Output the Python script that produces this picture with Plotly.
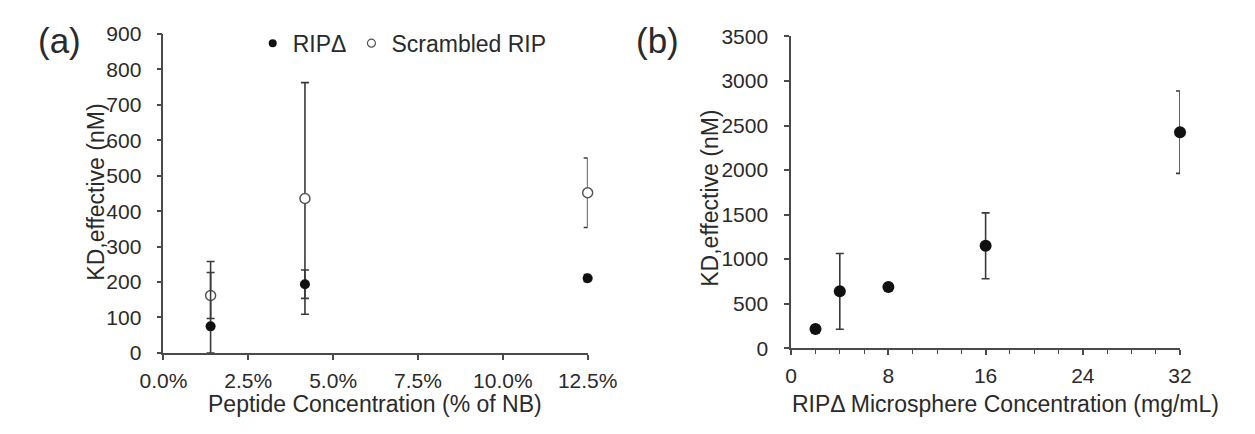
import plotly.graph_objects as go

# Panel (a): K_D,effective vs peptide loading
pct = [1.39, 4.17, 12.5]
rip_kd = [75, 194, 211]
rip_err_plus = [183, 40, 10]
rip_err_minus = [75, 40, 10]
scr_kd = [162, 436, 452]
scr_err = [65, 327, 98]

# Panel (b): K_D,effective vs RIPΔ microsphere concentration
conc = [2, 4, 8, 16, 32]
kd_b = [215, 638, 687, 1149, 2425]
err_b = [40, 425, 30, 370, 463]

W, H = 1255, 434
FONT = "Liberation Sans, Arial, sans-serif"
TXT = "#2a2a2a"
AX = "#4a4a4a"
ERR = "#3a3a3a"


def px_x(p):
    return p / W


def px_y(p):
    return (H - p) / H


fig = go.Figure()

err_style = dict(type="data", color=ERR, thickness=1.6, width=4)

fig.add_trace(go.Scatter(
    x=pct, y=scr_kd, mode="markers", xaxis="x", yaxis="y", showlegend=False,
    marker=dict(size=10, color="white", line=dict(color="#555555", width=1.5)),
    error_y=dict(array=scr_err, **err_style), cliponaxis=False,
))
fig.add_trace(go.Scatter(
    x=pct, y=rip_kd, mode="markers", xaxis="x", yaxis="y", showlegend=False,
    marker=dict(size=10, color="#111111"),
    error_y=dict(array=rip_err_plus, arrayminus=rip_err_minus, symmetric=False, **err_style),
    cliponaxis=False,
))
fig.add_trace(go.Scatter(
    x=conc, y=kd_b, mode="markers", xaxis="x2", yaxis="y2", showlegend=False,
    marker=dict(size=12, color="#111111"),
    error_y=dict(array=err_b, **err_style), cliponaxis=False,
))

# legend entries
fig.add_trace(go.Scatter(x=[None], y=[None], mode="markers", name="RIPΔ",
                         marker=dict(size=8, color="#111111")))
fig.add_trace(go.Scatter(x=[None], y=[None], mode="markers", name="Scrambled RIP",
                         marker=dict(size=8, color="white", line=dict(color="#555555", width=1.2))))

axis_common = dict(
    showline=True, linecolor=AX, linewidth=1.8, showgrid=False, zeroline=False,
    ticks="outside", ticklen=5, tickwidth=1.5, tickcolor=AX,
    tickfont=dict(family=FONT, size=21, color=TXT),
)

TITLE_FONT = dict(family=FONT, size=23, color=TXT)
YTITLE_FONT = dict(family=FONT, size=23, color=TXT)
PANEL_FONT = dict(family=FONT, size=35, color=TXT)


def label(text, x, y, font, angle=0):
    return dict(text=text, x=px_x(x), y=px_y(y), xref="paper", yref="paper",
                xanchor="center", yanchor="middle", textangle=angle,
                showarrow=False, font=font)


fig.update_layout(
    width=W, height=H,
    margin=dict(l=0, r=0, t=0, b=0),
    paper_bgcolor="white", plot_bgcolor="white",
    font=dict(family=FONT, color=TXT),
    xaxis=dict(domain=[px_x(145.7), px_x(589)], range=[0, 12.5], dtick=2.5,
               tickformat=".1f", ticksuffix="%", anchor="y", ticklabelstandoff=3,
               **axis_common),
    yaxis=dict(domain=[px_y(360), px_y(23.3)], range=[0, 900], dtick=100, anchor="x",
               ticklabelstandoff=11, **axis_common),
    xaxis2=dict(domain=[px_x(801.7), px_x(1208)], range=[0, 32], dtick=8, anchor="y2",
                ticklabelstandoff=3,
                minor=dict(dtick=2, ticks="outside", ticklen=4, tickcolor=AX, tickwidth=1.2),
                **axis_common),
    yaxis2=dict(domain=[px_y(355), px_y(25.8)], range=[0, 3500], dtick=500, anchor="x2",
                ticklabelstandoff=12, **axis_common),
    showlegend=True,
    legend=dict(orientation="h", x=px_x(239), y=px_y(33), xanchor="left", yanchor="middle",
                font=dict(family=FONT, size=23, color=TXT), bgcolor="rgba(0,0,0,0)",
                itemwidth=30),
    annotations=[
        label("(a)", 37, 30, PANEL_FONT),
        label("(b)", 662, 30, PANEL_FONT),
        label("Peptide Concentration (% of NB)", 367, 414, TITLE_FONT),
        label("RIPΔ Microsphere Concentration (mg/mL)", 1026, 414, TITLE_FONT),
        label("KD,effective (nM)", 75, 190, YTITLE_FONT, -90),
        label("KD,effective (nM)", 716, 197, YTITLE_FONT, -90),
    ],
)

fig.write_html("out.html", post_script="document.body.style.margin='0';")
